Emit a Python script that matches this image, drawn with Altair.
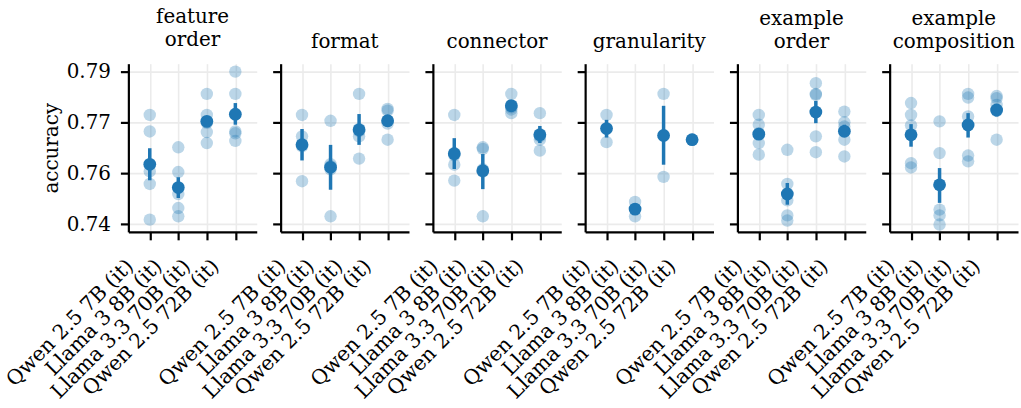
import altair as alt
import pandas as pd

models = ["Qwen 2.5 7B (it)", "Llama 3 8B (it)", "Llama 3.3 70B (it)", "Qwen 2.5 72B (it)"]
panels = ["feature order", "format", "connector", "granularity", "example order", "example composition"]
panel_titles = [["feature", "order"], ["format"], ["connector"], ["granularity"],
                ["example", "order"], ["example", "composition"]]

# individual runs (light dots), per model
feature_order = [[0.7758, 0.7704, 0.7573, 0.7532, 0.7415],
                 [0.7652, 0.7571, 0.7499, 0.7453, 0.7426],
                 [0.7827, 0.7758, 0.7732, 0.7702, 0.7666],
                 [0.7900, 0.7827, 0.7704, 0.7698, 0.7673]]
format_vals = [[0.7758, 0.7688, 0.7660, 0.7655, 0.7541],
               [0.7739, 0.7597, 0.7590, 0.7580, 0.7426],
               [0.7827, 0.7712, 0.7705, 0.7688, 0.7615],
               [0.7778, 0.7772, 0.7738, 0.7730, 0.7677]]
connector = [[0.7758, 0.7633, 0.7626, 0.7595, 0.7543],
             [0.7652, 0.7647, 0.7580, 0.7572, 0.7426],
             [0.7827, 0.7790, 0.7783, 0.7776, 0.7764],
             [0.7764, 0.7695, 0.7688, 0.7677, 0.7641]]
granularity = [[0.7758, 0.7669],
               [0.7473, 0.7426],
               [0.7827, 0.7555],
               [0.7677]]
example_order = [[0.7758, 0.7726, 0.7698, 0.7666, 0.7628],
                 [0.7644, 0.7532, 0.7478, 0.7429, 0.7412],
                 [0.7862, 0.7827, 0.7824, 0.7688, 0.7636],
                 [0.7769, 0.7734, 0.7720, 0.7677, 0.7622]]
example_composition = [[0.7797, 0.7758, 0.7724, 0.7600, 0.7586],
                       [0.7737, 0.7633, 0.7448, 0.7429, 0.7399],
                       [0.7827, 0.7815, 0.7753, 0.7625, 0.7606],
                       [0.7820, 0.7813, 0.7791, 0.7771, 0.7677]]

# error bar ends, per model
err_lo = [[0.7544, 0.7486, 0.7724, 0.7726],
          [0.7609, 0.7513, 0.7660, 0.7720],
          [0.7581, 0.7515, 0.7774, 0.7666],
          [0.7684, 0.7437, 0.7595, 0.7677],
          [0.7676, 0.7464, 0.7731, 0.7688],
          [0.7654, 0.7470, 0.7684, 0.7753]]
err_hi = [[0.7649, 0.7554, 0.7750, 0.7797],
          [0.7712, 0.7660, 0.7761, 0.7753],
          [0.7682, 0.7630, 0.7802, 0.7722],
          [0.7742, 0.7459, 0.7788, 0.7677],
          [0.7715, 0.7535, 0.7804, 0.7726],
          [0.7728, 0.7584, 0.7764, 0.7793]]

y_ticks = [0.74, 0.7566667, 0.7733333, 0.79]

all_runs = [feature_order, format_vals, connector, granularity, example_order, example_composition]

rows = []
for p, runs in zip(panels, all_runs):
    for m, vals in zip(models, runs):
        for v in vals:
            rows.append({"panel": p, "model": m, "acc": v})
runs_df = pd.DataFrame(rows)

summ = runs_df.groupby(["panel", "model"], as_index=False)["acc"].mean()
err_rows = []
for i, p in enumerate(panels):
    for j, m in enumerate(models):
        err_rows.append({"panel": p, "model": m, "lo": err_lo[i][j], "hi": err_hi[i][j]})
summ = summ.merge(pd.DataFrame(err_rows), on=["panel", "model"])

BLUE = "#1f77b4"
FONT = "DejaVu Serif"
ydom = [0.7375, 0.7926]

charts = []
for i, p in enumerate(panels):
    first = i == 0
    xenc = alt.X("model:N", sort=models, scale=alt.Scale(type="point", padding=0.75),
                 axis=alt.Axis(title=None, labelAngle=-45, labelAlign="right",
                               labelBaseline="bottom", labelPadding=30, labelOffset=-13,
                               labelLimit=400, grid=True, labelFontSize=20.5))
    yaxis = alt.Axis(values=y_ticks, format=".2f", labels=first,
                     title="accuracy" if first else None, titlePadding=5, labelPadding=10)
    yenc = alt.Y("acc:Q", scale=alt.Scale(domain=ydom, nice=False, zero=False), axis=yaxis)
    pts = alt.Chart(runs_df[runs_df.panel == p]).mark_circle(
        size=155, color=BLUE, opacity=0.3).encode(x=xenc, y=yenc)
    sd = summ[summ.panel == p]
    bars = alt.Chart(sd).mark_rule(color=BLUE, strokeWidth=3.5).encode(
        x=alt.X("model:N", sort=models), y=alt.Y("lo:Q"), y2="hi:Q")
    mean = alt.Chart(sd).mark_circle(size=165, color=BLUE, opacity=1).encode(
        x=alt.X("model:N", sort=models), y=alt.Y("acc:Q"))
    layer = alt.layer(pts, bars, mean).properties(
        width=129, height=169,
        title=alt.TitleParams(text=panel_titles[i], font=FONT, fontSize=20,
                              fontWeight="normal", anchor="middle", offset=12,
                              lineHeight=23, color="black"))
    charts.append(layer)

chart = alt.hconcat(*charts, spacing=24, bounds="flush").configure_axis(
    labelFont=FONT, labelFontSize=20, labelColor="black",
    titleFont=FONT, titleFontSize=20, titleFontWeight="normal", titleColor="black",
    domainColor="black", domainWidth=2.2, tickColor="black", tickWidth=2.2, tickSize=8,
    gridColor="#ebebeb", gridWidth=1.6,
).configure_view(stroke=None).properties(padding={"left": 2, "top": 5, "right": 3, "bottom": 3})

chart.save("out.html", embed_options={"renderer": "svg", "actions": False})
